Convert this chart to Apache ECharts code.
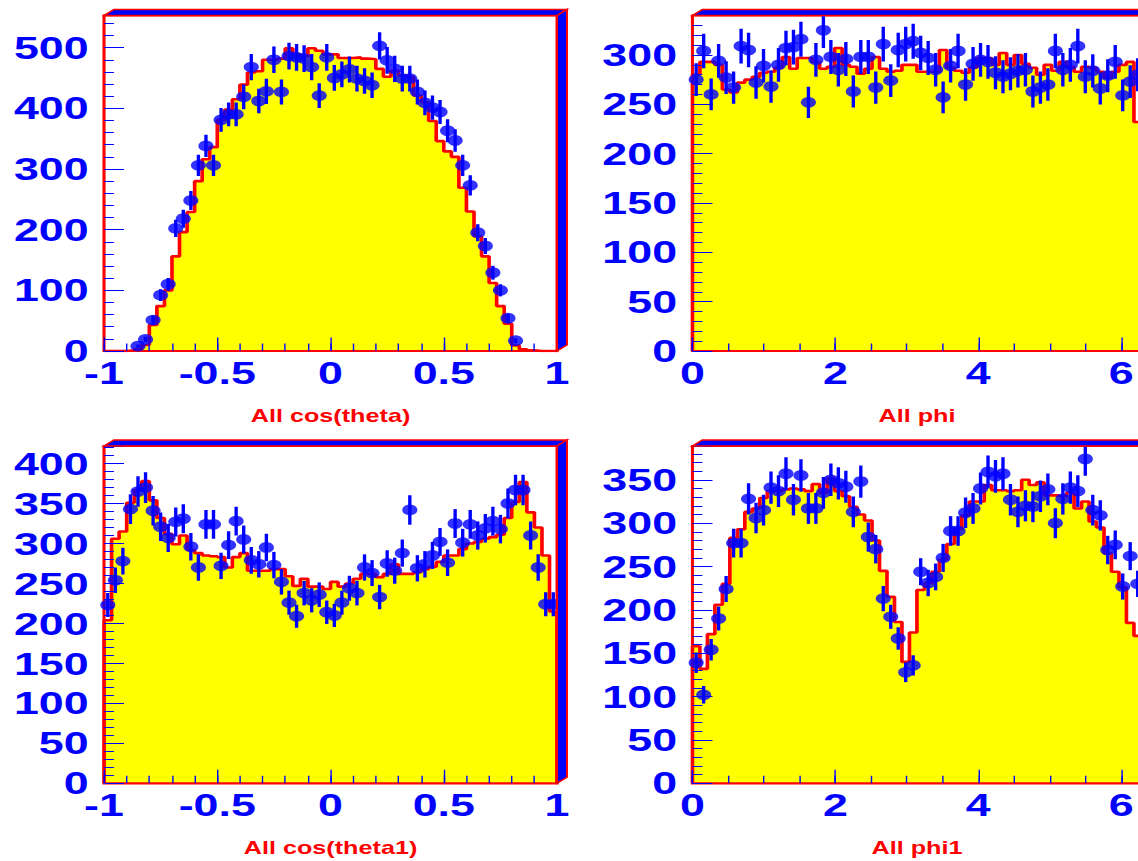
<!DOCTYPE html>
<html>
<head>
<meta charset="utf-8">
<script src="https://cdn.jsdelivr.net/npm/echarts@6/dist/echarts.min.js"></script>
<style>
  html, body { margin: 0; padding: 0; background: #ffffff; overflow: hidden; }
  #wrap { width: 1138px; height: 861px; overflow: hidden; }
  /* the plots are laid out on a narrower canvas and widened, giving the wide ROOT-style glyphs */
  #chart { width: 813px; height: 861px; transform: scaleX(1.4); transform-origin: 0 0; }
</style>
</head>
<body>
<div id="wrap"><div id="chart"></div></div>
<script>
// ---- binning ----
const BIN_COUNT = 60;
const cosRange = [-1, 1];
const phiRange = [0, 2 * Math.PI];

// ---- tick labels ----
const cosTicks = [-1, -0.5, 0, 0.5, 1];
const phiTicks = [0, 2, 4, 6];
const yTicksCosTheta = [0, 100, 200, 300, 400, 500];
const yTicksPhi = [0, 50, 100, 150, 200, 250, 300];
const yTicksCosTheta1 = [0, 50, 100, 150, 200, 250, 300, 350, 400];
const yTicksPhi1 = [0, 50, 100, 150, 200, 250, 300, 350];

// ---- axis maxima ----
const yMaxCosTheta = 553;
const yMaxPhi = 340;
const yMaxCosTheta1 = 422;
const yMaxPhi1 = 389;

// ---- All cos(theta): data counts and simulated histogram ----
const cosThetaData = [0,0,0,0,8,19,51,92,110,202, 218,248,306,338,306,381,390,390,419,468,
  412,428,480,427,486,484,482,468,421,484, 450,456,464,449,445,438,503,479,465,449,
  449,427,409,401,394,363,347,306,273,195, 173,129,100,54,17,0,0,0,0,0];
const cosThetaMC = [0,0,0,1,3,10,43,74,100,156, 196,229,280,316,336,381,398,415,439,459,
  461,480,480,482,499,489,486,499,495,489, 489,483,483,484,482,481,465,452,462,454,
  452,421,410,379,346,329,320,269,230,189, 156,112,74,45,9,3,1,0,0,0];

// ---- All phi ----
const phiData = [275,304,260,294,277,267,309,305,272,289, 268,290,307,308,316,252,295,325,298,285,
  296,263,298,298,267,311,274,305,311,314, 302,297,285,257,289,304,270,291,295,293,
  282,278,281,284,285,263,267,270,304,285, 290,309,278,284,266,279,293,259,273,280];
const phiMC = [280,293,293,290,265,262,272,275,278,282, 283,287,298,286,297,297,293,286,288,307,
  290,288,281,286,298,286,283,284,290,290, 283,283,283,305,287,284,282,287,297,297,
  290,302,290,300,291,287,280,290,284,293, 288,283,288,287,283,277,283,290,293,232];

// ---- All cos(theta1) ----
const cosTheta1Data = [223,254,278,343,365,370,341,321,307,327, 331,296,270,324,324,272,298,328,305,279,
  274,295,273,252,226,209,238,229,236,214, 210,226,244,238,270,263,233,275,266,288,
  342,269,274,285,302,276,325,301,324,310, 319,328,318,350,367,367,310,270,224,224];
const cosTheta1MC = [204,306,315,351,367,378,354,332,312,299, 310,292,288,285,284,283,270,283,288,266,
  266,266,268,268,259,247,256,246,246,243, 252,246,250,256,262,262,258,262,274,262,
  262,264,268,271,277,285,285,293,300,302, 306,308,311,332,352,377,339,320,285,215];

// ---- All phi1 ----
const phi1Data = [139,102,154,190,224,277,277,328,306,315, 341,337,357,327,355,317,317,335,350,346,
  342,313,348,284,270,213,192,167,128,136, 244,231,238,260,291,291,312,317,340,359,
  354,357,327,313,320,319,331,339,300,328, 341,337,374,315,309,269,275,227,262,230];
const phi1MC = [158,132,172,206,230,283,293,313,317,329, 337,337,339,340,339,337,345,335,352,337,
  331,319,310,303,280,245,215,186,140,174, 223,231,244,258,276,293,309,325,325,344,
  338,338,337,338,350,344,347,332,332,331, 335,317,325,302,295,265,244,226,185,170];

// ---- styling ----
const BLUE = '#0000ff';
const RED = '#ff0000';
const YELLOW = '#ffff00';
const FONT = 'Liberation Sans, Arial, Helvetica, sans-serif';
const BEVEL_X = 7.1;
const BEVEL_Y = 6;

const panels = [
  { title: 'All cos(theta)', range: cosRange, data: cosThetaData, mc: cosThetaMC,
    xTicks: cosTicks, xMajor: 0.5, xMinor: 0.1, yTicks: yTicksCosTheta, yMajor: 100, yMinor: 20, yMax: yMaxCosTheta,
    grid: { left: 74.3, top: 15.5, width: 323.6, height: 335.5 } },
  { title: 'All phi', range: phiRange, data: phiData, mc: phiMC,
    xTicks: phiTicks, xMajor: 2, xMinor: 0.5, yTicks: yTicksPhi, yMajor: 50, yMinor: 10, yMax: yMaxPhi,
    grid: { left: 494.6, top: 15.5, width: 320.7, height: 335.5 } },
  { title: 'All cos(theta1)', range: cosRange, data: cosTheta1Data, mc: cosTheta1MC,
    xTicks: cosTicks, xMajor: 0.5, xMinor: 0.1, yTicks: yTicksCosTheta1, yMajor: 50, yMinor: 10, yMax: yMaxCosTheta1,
    grid: { left: 74.3, top: 446, width: 323.6, height: 337.3 } },
  { title: 'All phi1', range: phiRange, data: phi1Data, mc: phi1MC,
    xTicks: phiTicks, xMajor: 2, xMinor: 0.5, yTicks: yTicksPhi1, yMajor: 50, yMinor: 10, yMax: yMaxPhi1,
    grid: { left: 494.6, top: 446, width: 320.7, height: 337.3 } }
];

function binEdges(range) {
  const w = (range[1] - range[0]) / BIN_COUNT;
  const edges = [];
  for (let i = 0; i <= BIN_COUNT; i++) edges.push(range[0] + i * w);
  return edges;
}

// outline points of a filled step histogram
function stepPoints(range, counts) {
  const e = binEdges(range);
  const pts = [[e[0], 0]];
  counts.forEach((c, i) => pts.push([e[i], c]));
  pts.push([e[BIN_COUNT], counts[BIN_COUNT - 1]]);
  pts.push([e[BIN_COUNT], 0]);
  return pts;
}

// bin centres with their counts; empty bins carry no marker
function markerPoints(range, counts) {
  const e = binEdges(range);
  return counts.map((c, i) => [(e[i] + e[i + 1]) / 2, c]).filter(p => p[1] > 0);
}

function tickFormatter(ticks) {
  return function (v) {
    const t = ticks.find(t => Math.abs(t - v) < 1e-6);
    return t === undefined ? '' : String(t);
  };
}

const labelStyle = { color: BLUE, fontSize: 32, fontWeight: 'bold', fontFamily: FONT };
const hiddenLine = { show: false, onZero: false };

const option = {
  animation: false,
  backgroundColor: '#ffffff',
  grid: [], xAxis: [], yAxis: [], series: []
};

panels.forEach((p, k) => {
  option.grid.push(Object.assign({ show: true, borderColor: RED, borderWidth: 2.2, z: 4,
    backgroundColor: 'transparent', outerBoundsMode: 'none', containLabel: false }, p.grid));

  // labelled axis with long ticks
  option.xAxis.push({
    type: 'value', gridIndex: k, position: 'bottom', min: p.range[0], max: p.range[1], interval: p.xMajor, z: 5,
    axisLine: hiddenLine, splitLine: { show: false },
    axisTick: { inside: true, length: 13.5, lineStyle: { color: BLUE, width: 1 } },
    axisLabel: Object.assign({ margin: 6, formatter: tickFormatter(p.xTicks) }, labelStyle),
    name: p.title, nameLocation: 'middle', nameGap: 56,
    nameTextStyle: { color: RED, fontSize: 18, fontWeight: 'bold', fontFamily: FONT }
  });
  // short minor ticks
  option.xAxis.push({
    type: 'value', gridIndex: k, position: 'bottom', min: p.range[0], max: p.range[1], interval: p.xMinor, z: 5,
    axisLine: hiddenLine, splitLine: { show: false }, axisLabel: { show: false },
    axisTick: { inside: true, length: 7.5, lineStyle: { color: BLUE, width: 1 } }
  });
  option.yAxis.push({
    type: 'value', gridIndex: k, position: 'left', min: 0, max: p.yMax, interval: p.yMajor, z: 5,
    axisLine: hiddenLine, splitLine: { show: false },
    axisTick: { inside: true, length: 14.3, lineStyle: { color: BLUE, width: 1 } },
    axisLabel: Object.assign({ margin: 11, formatter: tickFormatter(p.yTicks) }, labelStyle)
  });
  option.yAxis.push({
    type: 'value', gridIndex: k, position: 'left', min: 0, max: p.yMax, interval: p.yMinor, z: 5,
    axisLine: hiddenLine, splitLine: { show: false }, axisLabel: { show: false },
    axisTick: { inside: true, length: 7.1, lineStyle: { color: BLUE, width: 1 } }
  });

  const xi = 2 * k, yi = 2 * k;

  // simulated distribution: yellow filled step histogram with red outline
  option.series.push({
    type: 'line', xAxisIndex: xi, yAxisIndex: yi, step: 'end', symbol: 'none', z: 2,
    lineStyle: { color: RED, width: 2.6 },
    areaStyle: { color: YELLOW, opacity: 1 },
    data: stepPoints(p.range, p.mc)
  });

  // statistical error bars of the measured counts
  option.series.push({
    type: 'custom', xAxisIndex: xi, yAxisIndex: yi, z: 9, clip: true, silent: true,
    data: markerPoints(p.range, p.data),
    renderItem: function (params, api) {
      const x = api.value(0), v = api.value(1), err = Math.sqrt(v);
      const a = api.coord([x, v + err]);
      const b = api.coord([x, Math.max(v - err, 0)]);
      return { type: 'line', shape: { x1: a[0], y1: a[1], x2: b[0], y2: b[1] },
        style: { stroke: BLUE, lineWidth: 2.4 } };
    }
  });

  // measured counts
  option.series.push({
    type: 'scatter', xAxisIndex: xi, yAxisIndex: yi, z: 10, symbol: 'circle', symbolSize: 10.8,
    itemStyle: { color: BLUE }, data: markerPoints(p.range, p.data)
  });

  // raised frame edges on the top and right of each plot
  option.series.push({
    type: 'custom', xAxisIndex: xi, yAxisIndex: yi, z: 12, clip: false, silent: true,
    data: [[p.range[1], p.yMax]],
    renderItem: function (params, api) {
      const tl = api.coord([p.range[0], p.yMax]);
      const tr = api.coord([p.range[1], p.yMax]);
      const br = api.coord([p.range[1], 0]);
      const style = { fill: BLUE, stroke: RED, lineWidth: 1.4 };
      return { type: 'group', children: [
        { type: 'polygon', shape: { points: [tl, [tl[0] + BEVEL_X, tl[1] - BEVEL_Y],
            [tr[0] + BEVEL_X, tr[1] - BEVEL_Y], tr] }, style: style },
        { type: 'polygon', shape: { points: [tr, [tr[0] + BEVEL_X, tr[1] - BEVEL_Y],
            [br[0] + BEVEL_X, br[1] - BEVEL_Y], br] }, style: style }
      ] };
    }
  });
});

const chart = echarts.init(document.getElementById('chart'), null, { renderer: 'svg' });
chart.setOption(option);
</script>
</body>
</html>
